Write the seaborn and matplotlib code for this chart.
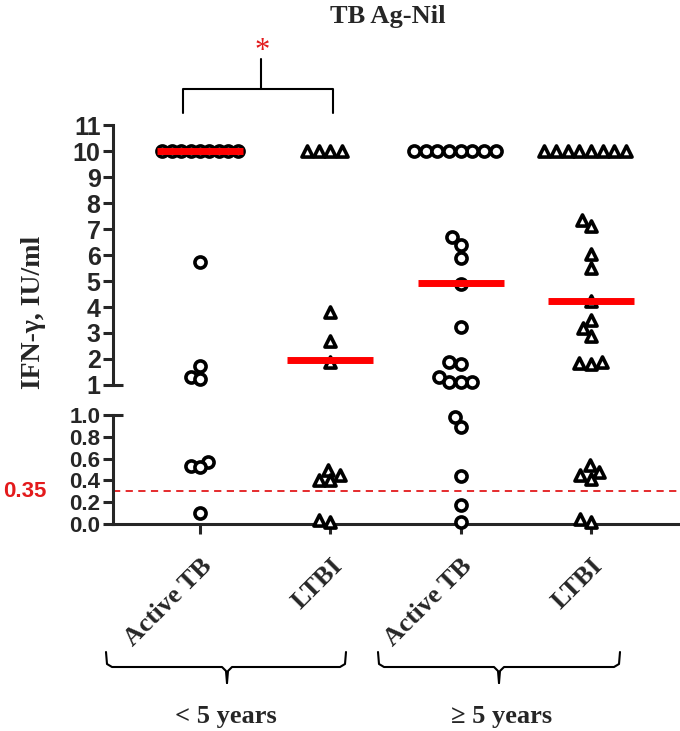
import numpy as np
import pandas as pd
import matplotlib
matplotlib.use("Agg")
import matplotlib.pyplot as plt
import seaborn as sns
from matplotlib.lines import Line2D
from matplotlib.collections import PathCollection
from matplotlib.transforms import blended_transform_factory

# groups in plotting order, their tick labels and marker shapes
groups = ["Active TB <5", "LTBI <5", "Active TB >=5", "LTBI >=5"]
tick_labels = ["Active TB", "LTBI", "Active TB", "LTBI"]
markers = ["o", "^", "o", "^"]

# IFN-gamma (IU/ml) (values >10 capped at 10)
active_lt5 = [10] * 9 + [5.75, 1.75, 1.3, 1.25, 0.57, 0.53, 0.52, 0.10]
ltbi_lt5 = [10] * 4 + [3.8, 2.7, 1.9, 0.50, 0.45, 0.40, 0.40, 0.04, 0.02]
active_ge5 = [10] * 8 + [6.7, 6.4, 5.9, 4.9, 3.25, 1.9, 1.8, 1.3, 1.1, 1.1, 1.1,
                         0.98, 0.89, 0.44, 0.17, 0.02]
ltbi_ge5 = [10] * 8 + [7.35, 7.1, 6.05, 5.5, 4.25, 3.5, 3.2, 2.9, 1.9, 1.85, 1.8,
                       0.54, 0.48, 0.45, 0.41, 0.05, 0.02]
medians = [10, 1.95, 4.92, 4.25]

cutoff_label = "0.35"
cutoff_y = 0.3  # where the dashed cut-off line sits in the picture

upper_ticks = [2, 3, 4, 5, 6, 7, 8, 9, 10, 11]
lower_ticks = [0.0, 0.2, 0.4, 0.6, 0.8]

rows = []
for g, mk, vals in zip(groups, markers,
                       [active_lt5, ltbi_lt5, active_ge5, ltbi_ge5]):
    for v in vals:
        rows.append({"group": g, "value": v, "marker": mk})
df = pd.DataFrame(rows)

sns.set_style("ticks")
SERIF = ["Liberation Serif", "DejaVu Serif"]
SANS = ["Liberation Sans", "DejaVu Sans"]

W, H = 680, 731
fig = plt.figure(figsize=(W / 100, H / 100), dpi=100)


def fx(x):
    return x / W


def fy(y):
    return 1 - y / H


ax_top = fig.add_axes([fx(113), fy(385), (W - 113) / W, 260 / H])
ax_bot = fig.add_axes([fx(113), fy(524), (W - 113) / W, 109 / H])

# swarm spacing is worked out with a small marker, then markers are enlarged
# so they overlap a bit like in the original (Prism-style) figure
layout_size = {"Active TB <5": 4.5, "LTBI <5": 6, "Active TB >=5": 6, "LTBI >=5": 6}


def swarm(ax, part):
    for g, mk in zip(groups, markers):
        sub = part[part["group"] == g]
        if sub.empty:
            continue
        sns.swarmplot(data=sub, x="group", y="value", order=groups, marker=mk,
                      size=layout_size[g], color="white", edgecolor="black",
                      linewidth=2, ax=ax, clip_on=False, zorder=3, warn_thresh=1)


swarm(ax_top, df[df["value"] >= 1])
swarm(ax_bot, df[df["value"] < 1])

for i, m in enumerate(medians):
    ax = ax_top if m >= 1 else ax_bot
    ax.hlines(m, i - 0.33, i + 0.33, color="red", lw=5, zorder=4, clip_on=False)

xlim = (-0.6675, 3.683)
for ax in (ax_top, ax_bot):
    ax.set_xlim(*xlim)
    ax.set_xlabel("")
    ax.set_ylabel("")
    ax.patch.set_alpha(0)
    for s in ("top", "right"):
        ax.spines[s].set_visible(False)
    ax.spines["left"].set_linewidth(2.2)

# upper segment 1..11
ax_top.set_ylim(1, 11)
ax_top.spines["bottom"].set_visible(False)
ax_top.tick_params(axis="x", bottom=False, labelbottom=False)
ax_top.set_yticks(upper_ticks, labels=[str(t) for t in upper_ticks])
ax_top.set_yticks([1], labels=["1"], minor=True)
ax_top.tick_params(axis="y", which="major", direction="out", length=7,
                   width=2.2, labelsize=18, pad=2)
ax_top.tick_params(axis="y", which="minor", direction="inout", length=14,
                   width=2.2, labelsize=18, pad=2)

# lower segment 0..1
ax_bot.set_ylim(0, 1)
ax_bot.spines["bottom"].set_linewidth(2.2)
ax_bot.set_yticks(lower_ticks, labels=[f"{t:.1f}" for t in lower_ticks])
ax_bot.set_yticks([1.0], labels=["1.0"], minor=True)
ax_bot.tick_params(axis="y", which="major", direction="out", length=7,
                   width=2.2, labelsize=16, pad=2)
ax_bot.tick_params(axis="y", which="minor", direction="inout", length=14,
                   width=2.2, labelsize=16, pad=2)
ax_bot.set_xticks(range(len(groups)))
ax_bot.set_xticklabels(tick_labels, rotation=45, ha="right", va="top",
                       rotation_mode="anchor")
ax_bot.tick_params(axis="x", direction="out", length=7, width=2.2,
                   labelsize=19, pad=15)

for ax in (ax_top, ax_bot):
    for lbl in ax.get_yticklabels(which="both"):
        lbl.set_fontfamily(SANS)
        lbl.set_fontweight("bold")
for lbl in ax_bot.get_xticklabels():
    lbl.set_fontfamily(SERIF)
    lbl.set_fontweight("bold")

# cut-off line
ax_bot.axhline(cutoff_y, color="#e31a1c", lw=1.3, ls=(0, (4, 3)),
               zorder=2, clip_on=False)
ax_bot.text(-0.118, cutoff_y, cutoff_label, color="#e31a1c", fontsize=16,
            fontweight="bold", family=SANS, ha="right", va="center",
            transform=blended_transform_factory(ax_bot.transAxes, ax_bot.transData))

# titles and labels
fig.text(fx(388), fy(17), "TB Ag-Nil", ha="center", va="center", fontsize=19,
         fontweight="bold", family=SERIF)
fig.text(fx(34), fy(312), "IFN-γ, IU/ml", rotation=90, ha="center",
         va="center", fontsize=20, fontweight="bold", family=SERIF)


def line(xs, ys, lw=1.5, color="black"):
    fig.add_artist(Line2D([fx(x) for x in xs], [fy(y) for y in ys],
                          transform=fig.transFigure, color=color, lw=lw))


# significance bracket
line([183, 183, 333, 333], [113, 89, 89, 113])
line([261, 261], [89, 59])
fig.text(fx(262), fy(52), "*", color="#e31a1c", fontsize=22, family=SERIF,
         ha="center", va="center")


def brace(x0, x1, xm, top=652, mid=667, tip=683):
    line([x0, x0 + 1, x0 + 6, xm - 5, xm - 1, xm],
         [top, mid - 3, mid, mid, mid + 4, tip])
    line([x1, x1 - 1, x1 - 6, xm + 5, xm + 1, xm],
         [top, mid - 3, mid, mid, mid + 4, tip])


brace(106, 346, 227)
brace(378, 620, 499)
fig.text(fx(226), fy(717), "< 5 years", ha="center", va="center", fontsize=19,
         fontweight="bold", family=SERIF)
fig.text(fx(502), fy(717), "≥ 5 years", ha="center", va="center", fontsize=19,
         fontweight="bold", family=SERIF)

# compute swarm positions, freeze them, then draw the full-size markers
fig.canvas.draw()
for ax in (ax_top, ax_bot):
    for c in ax.collections:
        if isinstance(c, PathCollection):
            if "draw" in vars(c):
                del c.draw
            c.set_sizes([8.0 ** 2])
            c.set_linewidth(2.6)

fig.savefig("out.png", dpi=100)
